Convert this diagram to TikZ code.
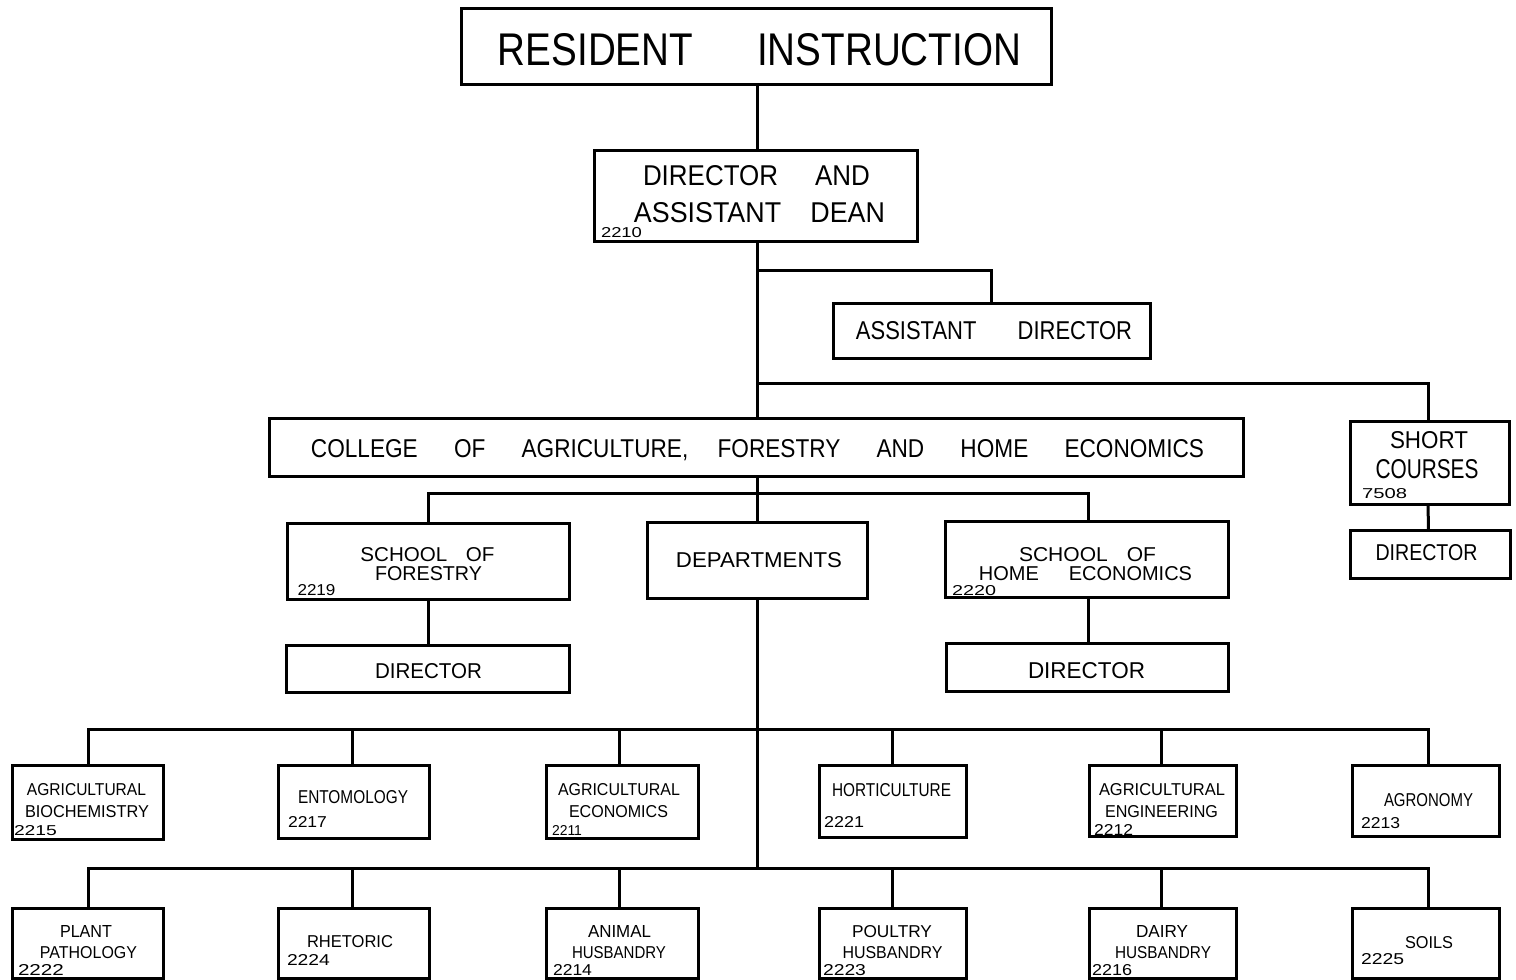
\documentclass[tikz,border=0pt]{standalone}
\usepackage{fontspec}
\setmainfont{Liberation Sans}
\usepackage{graphicx}
\tikzset{
  obox/.style={draw, line width=3pt, inner sep=0pt, outer sep=0pt, fill=white},
  tx/.style={inner sep=0pt, outer sep=0pt, anchor=base},
  wire/.style={line width=3pt},
}
% box: name, x1, y1, x2, y2 (pixel coordinates)
\newcommand\mybox[5]{\node[obox, minimum width={#4-#2}, minimum height={#5-#3}] (#1) at ({(#2+#4)/2},{(#3+#5)/2}) {};}
% text: name, center x, baseline y, width, cap height, text
\newcommand\mytext[6]{\node[tx] (#1) at (#2,#3) {\resizebox{#4pt}{#5pt}{#6}};}
\begin{document}
\begin{tikzpicture}[x=1pt,y=-1pt]
\useasboundingbox (0,0) rectangle (1516,980);
\fill[white] (0,0) rectangle (1516,980);

% ---------- boxes ----------
\mybox{title}{461}{8}{1051}{84}
\mybox{dir}{594}{150}{917}{241}
\mybox{asd}{833}{303}{1150}{358}
\mybox{coll}{269}{418}{1243}{476}
\mybox{sc}{1350}{421}{1509}{504}
\mybox{scd}{1350}{530}{1510}{578}
\mybox{sf}{287}{523}{569}{599}
\mybox{sfd}{286}{645}{569}{692}
\mybox{dep}{647}{522}{867}{598}
\mybox{she}{945}{521}{1228}{597}
\mybox{shed}{946}{643}{1228}{691}

\mybox{ra}{12}{765}{163}{839}
\mybox{rb}{278}{765}{429}{838}
\mybox{rc}{546}{765}{698}{838}
\mybox{rd}{819}{765}{966}{837}
\mybox{re}{1089}{765}{1236}{836}
\mybox{rf}{1352}{765}{1499}{836}

\mybox{sa}{12}{908}{163}{978}
\mybox{sb}{278}{908}{429}{978}
\mybox{sc2}{546}{908}{698}{978}
\mybox{sd}{819}{908}{966}{978}
\mybox{se}{1089}{908}{1236}{978}
\mybox{sf2}{1352}{908}{1499}{978}

% ---------- junction coordinates ----------
\coordinate (jA) at (757,270);
\coordinate (jB) at (757,383);
\coordinate (jC) at (757,493);
\coordinate (j1) at (757,729);
\coordinate (j2) at (757,868);

% ---------- connectors ----------
\draw[wire] (title.south -| jA) -- (dir.north -| jA);
\draw[wire] (dir.south -| jA) -- (coll.north -| jA);
\draw[wire] (jA) -| ([xshift=-0.5pt]asd.north);
\draw[wire] (jB) -| ([xshift=-1.5pt]sc.north);
\draw[wire] ([xshift=-1.5pt]sc.south) -- ([xshift=-1.5pt]scd.north);
\draw[wire] (coll.south -| jC) -- (dep.north -| jC);
\draw[wire] (sf.north) |- (jC) -| ([xshift=1.5pt]she.north);
\draw[wire] (sf.south) -- (sf.south |- sfd.north);
\draw[wire] ([xshift=1.5pt]she.south) -- ([xshift=1.5pt]she.south |- shed.north);
\draw[wire] (dep.south -| j2) -- (j2);
\draw[wire] ([xshift=0.5pt]ra.north) |- (j1) -| ([xshift=2.5pt]rf.north);
\draw[wire] ([xshift=-1.5pt]rb.north) -- ([xshift=-1.5pt]rb.north |- j1);
\draw[wire] ([xshift=-3pt]rc.north) -- ([xshift=-3pt]rc.north |- j1);
\draw[wire] (rd.north) -- (rd.north |- j1);
\draw[wire] ([xshift=-1.5pt]re.north) -- ([xshift=-1.5pt]re.north |- j1);
\draw[wire] ([xshift=0.5pt]sa.north) |- (j2) -| ([xshift=2.5pt]sf2.north);
\draw[wire] ([xshift=-1.5pt]sb.north) -- ([xshift=-1.5pt]sb.north |- j2);
\draw[wire] ([xshift=-3pt]sc2.north) -- ([xshift=-3pt]sc2.north |- j2);
\draw[wire] (sd.north) -- (sd.north |- j2);
\draw[wire] ([xshift=-1.5pt]se.north) -- ([xshift=-1.5pt]se.north |- j2);

% ---------- texts ----------
\mytext{t-title}{759.5}{65}{523}{32}{RESIDENT\hspace{1.66em}INSTRUCTION}
\mytext{t-dir1}{756.5}{185}{227}{20}{DIRECTOR\hspace{1.43em}AND}
\mytext{t-dir2}{759.5}{222}{251}{20}{ASSISTANT\hspace{1.09em}DEAN}
\mytext{n-dir}{621.5}{237}{41}{10}{2210}
\mytext{t-asd}{994}{339}{276}{18}{ASSISTANT\hspace{1.88em}DIRECTOR}
\mytext{t-coll}{757.5}{457}{893}{18}{COLLEGE\hspace{1.6em}OF\hspace{1.6em}AGRICULTURE,\hspace{1.3em}FORESTRY\hspace{1.6em}AND\hspace{1.6em}HOME\hspace{1.6em}ECONOMICS}
\mytext{t-sc1}{1429}{448}{78}{17}{SHORT}
\mytext{t-sc2}{1427}{478}{103}{19}{COURSES}
\mytext{n-sc}{1384.5}{498}{45}{10}{7508}
\mytext{t-scd}{1426.5}{560}{102}{16}{DIRECTOR}
\mytext{t-sf1}{427.5}{561}{134}{14}{SCHOOL\hspace{0.9em}OF}
\mytext{t-sf2}{428.5}{580}{107}{14}{FORESTRY}
\mytext{n-sf}{316.5}{595}{38}{11}{2219}
\mytext{t-sfd}{428.5}{678}{107}{15}{DIRECTOR}
\mytext{t-dep}{759}{567}{166}{15}{DEPARTMENTS}
\mytext{t-she1}{1087.5}{561}{137}{14}{SCHOOL\hspace{0.9em}OF}
\mytext{t-she2}{1085.5}{580}{213}{14}{HOME\hspace{1.5em}ECONOMICS}
\mytext{n-she}{974}{595}{44}{10}{2220}
\mytext{t-shed}{1086.5}{678}{117}{16}{DIRECTOR}

% row 1
\mytext{t-ra1}{86.5}{795}{119}{12}{AGRICULTURAL}
\mytext{t-ra2}{87}{817}{124}{12}{BIOCHEMISTRY}
\mytext{n-ra}{35.5}{835}{43}{10}{2215}
\mytext{t-rb}{353}{803}{110}{13}{ENTOMOLOGY}
\mytext{n-rb}{307.5}{827}{39}{11}{2217}
\mytext{t-rc1}{619}{795}{122}{12}{AGRICULTURAL}
\mytext{t-rc2}{618.5}{817}{99}{12}{ECONOMICS}
\mytext{n-rc}{567}{835}{30}{10}{2211}
\mytext{t-rd}{891.5}{796}{119}{13}{HORTICULTURE}
\mytext{n-rd}{844}{827}{40}{11}{2221}
\mytext{t-re1}{1162}{795}{126}{12}{AGRICULTURAL}
\mytext{t-re2}{1161.5}{817}{113}{12}{ENGINEERING}
\mytext{n-re}{1113.5}{835}{39}{11}{2212}
\mytext{t-rf}{1428.5}{806}{89}{13}{AGRONOMY}
\mytext{n-rf}{1380.5}{828}{39}{11}{2213}

% row 2
\mytext{t-sa1}{86}{937}{52}{12}{PLANT}
\mytext{t-sa2}{88.5}{958}{97}{12}{PATHOLOGY}
\mytext{n-sa}{41}{975}{46}{11}{2222}
\mytext{t-sb}{350}{947}{86}{12}{RHETORIC}
\mytext{n-sb}{308.5}{965}{43}{11}{2224}
\mytext{t-sc2a}{619.5}{937}{63}{12}{ANIMAL}
\mytext{t-sc2b}{619}{958}{94}{12}{HUSBANDRY}
\mytext{n-sc2}{572.5}{975}{39}{11}{2214}
\mytext{t-sd1}{892}{937}{80}{12}{POULTRY}
\mytext{t-sd2}{892.5}{958}{100}{12}{HUSBANDRY}
\mytext{n-sd}{844.5}{975}{43}{11}{2223}
\mytext{t-se1}{1162}{937}{52}{12}{DAIRY}
\mytext{t-se2}{1163}{958}{96}{12}{HUSBANDRY}
\mytext{n-se}{1112}{975}{40}{11}{2216}
\mytext{t-sf2}{1429}{948}{48}{12}{SOILS}
\mytext{n-sf2}{1382.5}{964}{43}{11}{2225}
\end{tikzpicture}
\end{document}
